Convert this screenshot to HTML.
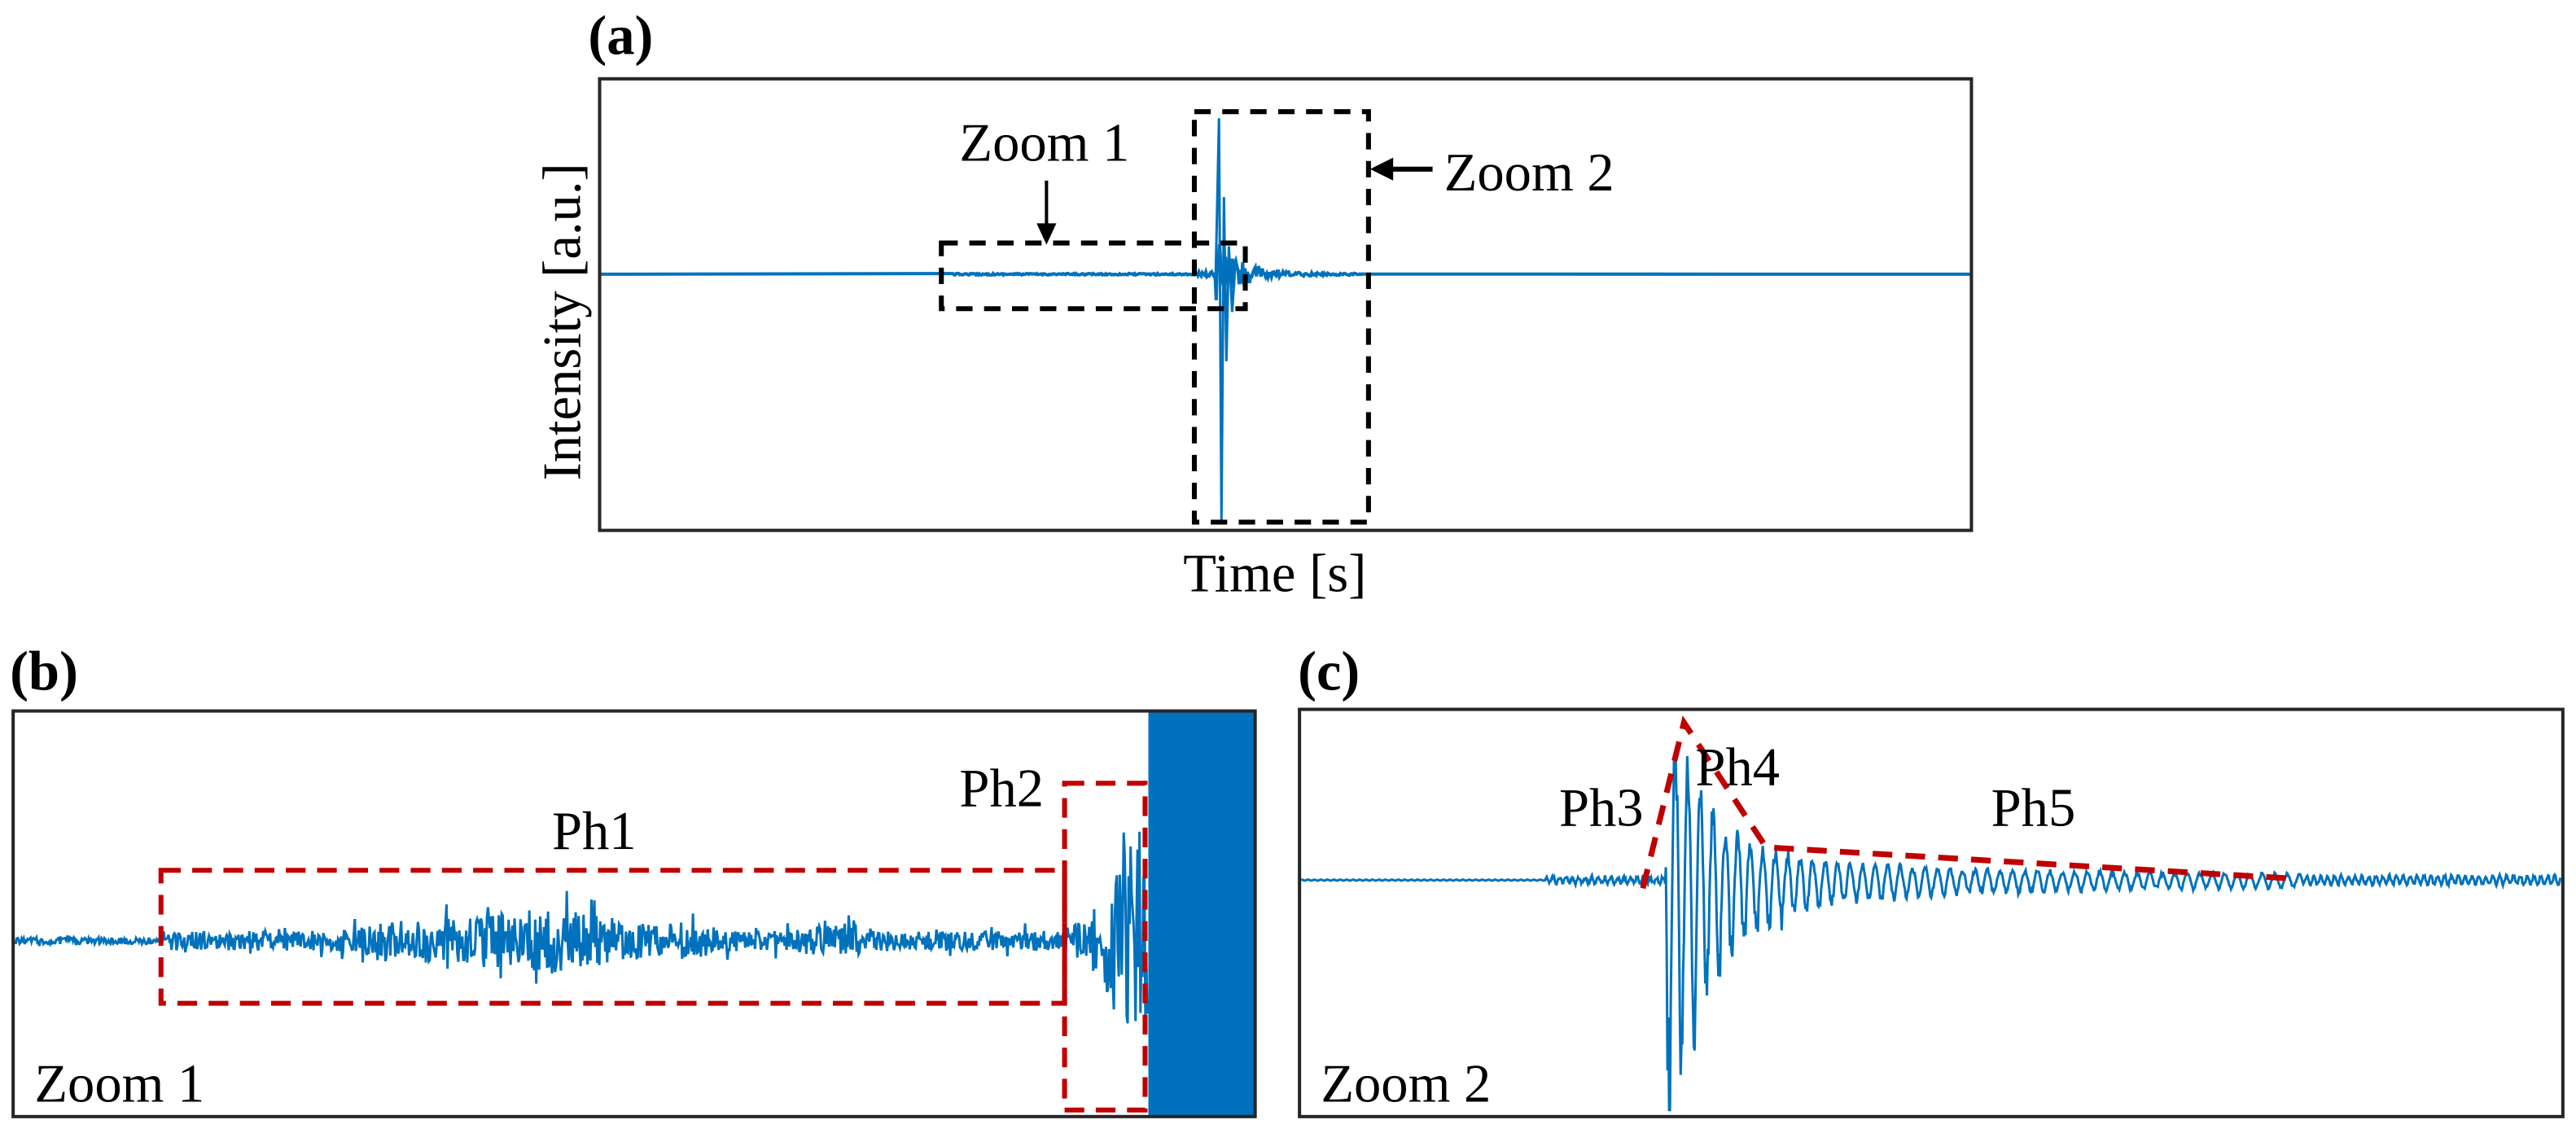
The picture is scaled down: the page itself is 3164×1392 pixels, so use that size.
<!DOCTYPE html>
<html><head><meta charset="utf-8"><style>
html,body{margin:0;padding:0;background:#fff;}
svg{display:block;}
text{font-family:"Liberation Serif",serif;fill:#000;}
</style></head><body>
<svg id="s" width="3164" height="1392" viewBox="0 0 1568 690" preserveAspectRatio="none" xmlns="http://www.w3.org/2000/svg">
<rect width="1568" height="690" fill="#fff"/>
<!-- Panel a -->
<text x="358" y="33" font-size="34" font-weight="bold">(a)</text>
<g id="wa"></g>
<rect x="365" y="48" width="835" height="275" fill="none" stroke="#262626" stroke-width="2"/>
<text transform="translate(353,196) rotate(-90)" font-size="33" text-anchor="middle">Intensity [a.u.]</text>
<text x="776" y="360" font-size="33" text-anchor="middle">Time [s]</text>
<rect x="573" y="148" width="185" height="40" fill="none" stroke="#000" stroke-width="3" stroke-dasharray="10,7"/>
<rect x="727" y="68" width="106" height="250" fill="none" stroke="#000" stroke-width="3" stroke-dasharray="10,7"/>
<text x="584" y="98" font-size="33">Zoom 1</text>
<line x1="637" y1="110" x2="637" y2="138" stroke="#000" stroke-width="2"/>
<polygon points="631,136 643,136 637,149" fill="#000"/>
<text x="879" y="116" font-size="33">Zoom 2</text>
<line x1="846" y1="103" x2="872" y2="103" stroke="#000" stroke-width="3"/>
<polygon points="848,96 848,110 834,103" fill="#000"/>

<!-- Panel b -->
<text x="6" y="420" font-size="34" font-weight="bold">(b)</text>
<g id="wb"></g>
<rect x="699" y="433" width="65" height="247" fill="#0072bd"/>
<rect x="98" y="530" width="550" height="81" fill="none" stroke="#c00000" stroke-width="3" stroke-dasharray="12,7"/>
<rect x="648" y="477" width="49" height="199" fill="none" stroke="#c00000" stroke-width="3" stroke-dasharray="12,7"/>
<text x="336" y="517" font-size="33">Ph1</text>
<text x="584" y="491" font-size="33">Ph2</text>
<text x="21" y="671" font-size="33">Zoom 1</text>
<rect x="8" y="433" width="756" height="247" fill="none" stroke="#262626" stroke-width="2"/>

<!-- Panel c -->
<text x="790" y="420" font-size="34" font-weight="bold">(c)</text>
<g id="wc"></g>
<polyline points="1000,541 1025,440 1075,516 1395,535" fill="none" stroke="#c00000" stroke-width="3.5" stroke-dasharray="12,8"/>
<text x="949" y="503" font-size="33">Ph3</text>
<text x="1032" y="478" font-size="33">Ph4</text>
<text x="1212" y="503" font-size="33">Ph5</text>
<text x="804" y="671" font-size="33">Zoom 2</text>
<rect x="791" y="432" width="769" height="248" fill="none" stroke="#262626" stroke-width="2"/>
</svg>
<script>
var seed=12345;function r(){seed=(seed*16807)%2147483647;return seed/2147483647*2-1;}
function path(pts,w){return '<path d="M'+pts.map(function(p){return p[0].toFixed(2)+','+p[1].toFixed(2)}).join('L')+'" fill="none" stroke="#0072bd" stroke-width="'+w+'"/>';}
var pa=[];pa.push([366,167]);
for(var x=580;x<=830;x+=0.7){var a;
 if(x<727)a=0.5; else if(x<740)a=1.5;
 else a=16*Math.exp(-(x-745)/14)+0.6;
 pa.push([x,167+a*r()]);}
pa.push([1199,167]);
var sp=[[740,167],[742,72],[743.5,318],[745,120],[746.5,220],[748,150],[750,190],[752,160]];
document.getElementById('wa').innerHTML=path(pa,2)+path(sp,1.5);
var pb=[];
function envb(x){if(x<98)return 2;
 var e=6+6*Math.exp(-Math.pow((x-330)/60,2))*2.2+5*Math.exp(-Math.pow((x-250)/30,2))+5*Math.exp(-Math.pow((x-510)/20,2))+4*Math.exp(-Math.pow((x-420)/15,2));
 if(x>648)e=10+Math.pow((x-648)/49,2)*85;return e;}
for(var x=9;x<699;x+=0.6){var e=envb(x);var v=r();if(Math.abs(r())>0.9)v*=1.8;var y=573+e*v;y=Math.max(488,Math.min(676,y));pb.push([x,y]);}
document.getElementById('wb').innerHTML=path(pb,1.5);
var pc=[];
for(var x=792;x<1559;x+=0.5){var y=536;
 if(x<1014){y+= (x>940?1.8*Math.sin(x*1.6)+1.2*r():0.3*Math.sin(x*1.6));}
 else{var t=x-1016;var up=95*Math.exp(-t/25)+15*Math.exp(-t/160)+3;var dn=140*Math.exp(-t/30)+18*Math.exp(-t/180)+3;
  var s=Math.sin(t*2*Math.PI/7.6-Math.PI/2);var amp=s>0?up:dn;y-= s*amp*(0.8+0.25*r());
  if(x>1400)y=536-2.5*Math.sin(x*1.5)+1*r();}
 y=Math.max(440,Math.min(676,y));
 pc.push([x,y]);}
document.getElementById('wc').innerHTML=path(pc,1.5);
</script>
</body></html>
